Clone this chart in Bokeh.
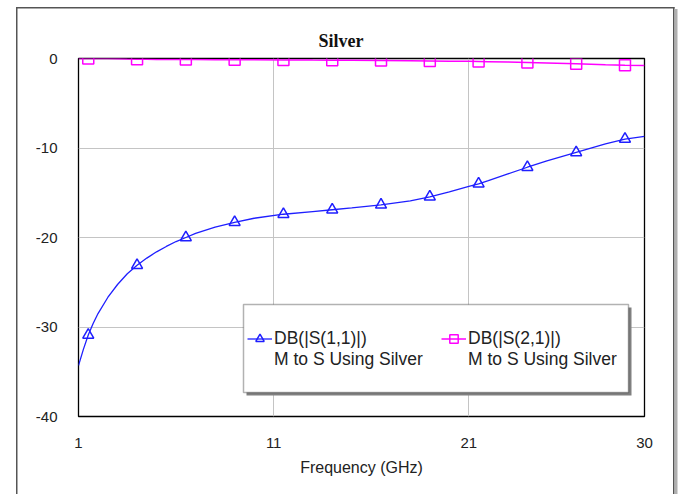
from bokeh.plotting import figure
from bokeh.models import (FixedTicker, Legend, LegendItem, BoxAnnotation, Title,
                          Range1d, ColumnDataSource)
from bokeh.embed import file_html
from bokeh.resources import INLINE

# Sweep: frequency (GHz), return loss S11 and insertion loss S21 (dB)
freq_ghz = [1.0, 1.25, 1.5, 1.75, 2.0, 2.5, 3.0, 3.5, 4.0, 4.5, 5.0, 5.5, 6.0,
            6.5, 7.0, 8.0, 9.0, 10.0, 11.5, 13.0, 14.0, 15.0, 16.5, 18.0, 19.0,
            20.0, 21.0, 21.5, 22.0, 23.0, 24.0, 25.0, 26.5, 28.0, 29.0, 30.0]
s11_db = [-34.3, -32.5, -30.9, -29.6, -28.5, -26.7, -25.25, -24.05, -23.1, -22.3,
          -21.6, -21.0, -20.45, -20.0, -19.55, -18.85, -18.3, -17.85, -17.4, -17.1,
          -16.9, -16.7, -16.35, -15.9, -15.45, -14.9, -14.3, -14.0, -13.65, -12.9,
          -12.15, -11.45, -10.5, -9.55, -9.0, -8.7]
s21_db = [0.0, 0.0, 0.0, 0.0, 0.0, 0.0, -0.02, -0.06, -0.08, -0.09, -0.1, -0.11,
          -0.11, -0.12, -0.12, -0.13, -0.14, -0.15, -0.16, -0.18, -0.19, -0.2,
          -0.22, -0.25, -0.27, -0.3, -0.32, -0.34, -0.36, -0.4, -0.44, -0.5,
          -0.6, -0.7, -0.75, -0.77]
marker_freq_ghz = [1.5, 4.0, 6.5, 9.0, 11.5, 14.0, 16.5, 19.0, 21.5, 24.0, 26.5, 29.0]

x_ticks = [1, 11, 21, 30]
y_ticks = [-40, -30, -20, -10, 0]

title_text = "Silver"
x_label = "Frequency (GHz)"
s11_name = "DB(|S(1,1)|)"
s21_name = "DB(|S(2,1)|)"
source_name = "M to S Using Silver"

BLUE = "#1f1fff"
MAGENTA = "#ff00ff"
SANS = "Liberation Sans"
W, H = 681, 494

line_src = ColumnDataSource(dict(f=freq_ghz, s11=s11_db, s21=s21_db))
mk_idx = [freq_ghz.index(f) for f in marker_freq_ghz]
mk_src = ColumnDataSource(dict(f=[freq_ghz[i] for i in mk_idx],
                               s11=[s11_db[i] for i in mk_idx],
                               s21=[s21_db[i] for i in mk_idx]))

p = figure(width=W, height=H, output_backend="svg", toolbar_location=None,
           x_range=Range1d(1, 30), y_range=Range1d(-40, 0),
           min_border_left=78, min_border_right=37, min_border_top=58,
           min_border_bottom=78, background_fill_color="white",
           border_fill_alpha=0)

# panel border (dark edge plus light shadow on the right), painted behind
# the transparent figure border area
panel_edges = [
    ("#555555", 16, 6.5, 658.5, 1.5),
    ("#555555", 15.5, 6.5, 1.5, H),
    ("#555555", 673, 6.5, 1.5, H),
    ("#b0b0b0", 674.5, 9, 2.5, H),
]
p.styles = {"background": ", ".join(
    f"linear-gradient({c}, {c}) {x}px {y}px / {w}px {h}px no-repeat"
    for c, x, y, w, h in panel_edges) + ", #ffffff"}

p.outline_line_color = "#000000"
p.outline_line_width = 1.3

# axes
p.xaxis.ticker = FixedTicker(ticks=x_ticks)
p.yaxis.ticker = FixedTicker(ticks=y_ticks)
p.xaxis.major_label_overrides = {t: str(t) for t in x_ticks}
p.yaxis.major_label_overrides = {t: str(t) for t in y_ticks}
for ax in (p.xaxis[0], p.yaxis[0]):
    ax.axis_line_color = None
    ax.major_tick_line_color = None
    ax.minor_tick_line_color = None
    ax.major_tick_in = 0
    ax.major_tick_out = 0
    ax.minor_tick_in = 0
    ax.minor_tick_out = 0
    ax.major_label_text_font = SANS
    ax.major_label_text_font_size = "15px"
    ax.major_label_text_color = "#222222"
p.yaxis.major_label_standoff = 21
p.xaxis.major_label_standoff = 21
p.xaxis.axis_label = x_label
p.xaxis.axis_label_text_font = SANS
p.xaxis.axis_label_text_font_size = "16px"
p.xaxis.axis_label_text_font_style = "normal"
p.xaxis.axis_label_text_color = "#222222"
p.xaxis.axis_label_standoff = 8

p.grid.grid_line_color = "#c4c4c4"
p.grid.grid_line_width = 1


def canvas_box(left, right, top, bottom, **kw):
    # pixel box on the canvas (top < bottom in screen pixels)
    return BoxAnnotation(left=left, right=right, top=bottom, bottom=top,
                         left_units="canvas", right_units="canvas",
                         top_units="canvas", bottom_units="canvas", **kw)


# traces
l11 = p.line("f", "s11", source=line_src, color=BLUE, line_width=1.3)
m11 = p.scatter("f", "s11", source=mk_src, marker="triangle", size=11,
                line_color=BLUE, line_width=1.5, fill_color=None)
l21 = p.line("f", "s21", source=line_src, color=MAGENTA, line_width=1.5)
m21 = p.scatter("f", "s21", source=mk_src, marker="square", size=11,
                line_color=MAGENTA, line_width=1.5, fill_color=None)
# empty renderer for the second (glyph-less) legend row
blank = p.line(x=[], y=[], line_alpha=0)

# legend frame and drop shadow
p.add_layout(canvas_box(246, 631, 307, 395, fill_color="#808080",
                        fill_alpha=1, line_color=None))
p.add_layout(canvas_box(243, 628, 304, 392, fill_color="white", fill_alpha=1,
                        line_color="#000000", line_width=1.5))

legend = Legend(items=[LegendItem(label=s11_name, renderers=[l11, m11]),
                       LegendItem(label=s21_name, renderers=[l21, m21]),
                       LegendItem(label=source_name, renderers=[blank]),
                       LegendItem(label=source_name, renderers=[blank])],
                orientation="horizontal", ncols=2, location=(169, 46),
                glyph_width=25, glyph_height=21, label_height=21,
                label_width=167, label_standoff=2, spacing=0, padding=0,
                margin=0, border_line_color=None, background_fill_alpha=0,
                label_text_font=SANS, label_text_font_size="17.5px",
                label_text_color="#222222")
p.add_layout(legend)

p.add_layout(Title(text=title_text, align="left", offset=240,
                   text_font="Liberation Serif", text_font_size="18px",
                   text_font_style="bold", text_color="#111111",
                   standoff=15), "above")

open("out.html", "w").write(file_html(p, INLINE))
